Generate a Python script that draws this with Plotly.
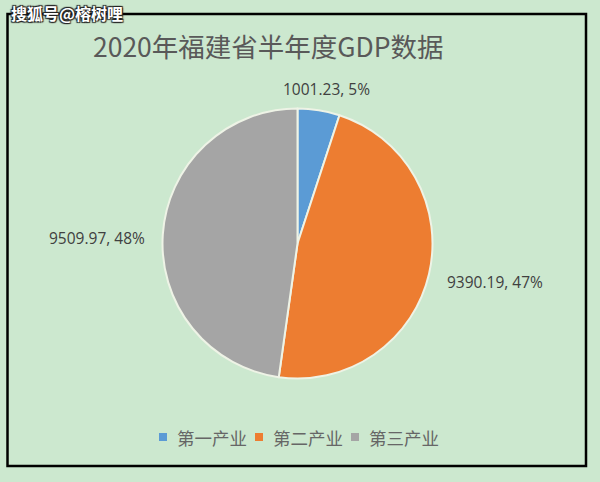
import math
import plotly.graph_objects as go

categories = ["第一产业", "第二产业", "第三产业"]
values = [1001.23, 9390.19, 9509.97]
colors = ["#5b9bd5", "#ed7d31", "#a5a5a5"]
title_text = "2020年福建省半年度GDP数据"
watermark = "搜狐号@榕树哩"

W, H = 600, 482
BG = "#cce8cf"
cx, cy, r = 297.5, 243.5, 135.0  # pie centre / radius in pixels

fig = go.Figure()
fig.add_trace(go.Pie(
    labels=categories, values=values, sort=False, direction="clockwise", rotation=0,
    marker=dict(colors=colors, line=dict(color="#eef3e6", width=2)),
    textinfo="none", hoverinfo="label+value+percent", showlegend=False,
    domain=dict(x=[(cx - r) / W, (cx + r) / W], y=[(H - cy - r) / H, (H - cy + r) / H]),
))

# data labels, placed from each slice's mid angle
total = sum(values)
start = 0.0
annotations = []
shapes = []
for v in values:
    frac = v / total
    mid = (start + frac / 2) * 2 * math.pi
    start += frac
    lr = r * 1.12
    s = math.sin(mid)
    px = cx + lr * s
    py = cy - lr * math.cos(mid) + 5 * abs(s)
    xa = "center" if abs(s) < 0.35 else ("left" if s > 0 else "right")
    if xa == "center":
        px += 5
        py -= 6
    annotations.append(dict(
        x=px / W, y=1 - py / H, xref="paper", yref="paper", xanchor=xa, yanchor="middle",
        text=f"{v:.2f}, {round(frac * 100)}%", showarrow=False,
        font=dict(family="Open Sans, Noto Sans", size=15.5, color="#404040"),
    ))

# legend (drawn row: square key + category name)
leg_x0, leg_y, leg_pitch = 163.0, 437.0, 96.0
for i, (cat, col) in enumerate(zip(categories, colors)):
    kx = leg_x0 + i * leg_pitch
    shapes.append(dict(type="rect", xref="paper", yref="paper",
                       x0=(kx - 4) / W, x1=(kx + 4) / W, y0=1 - (leg_y + 4) / H, y1=1 - (leg_y - 4) / H,
                       line=dict(width=0), fillcolor=col))
    annotations.append(dict(
        x=(kx + 12) / W, y=1 - leg_y / H, xref="paper", yref="paper", xanchor="left", yanchor="middle",
        text=cat, showarrow=False,
        font=dict(family="Noto Sans CJK SC", size=17.5, color="#666666"),
    ))

annotations.append(dict(
    x=268 / W, y=1 - 45 / H, xref="paper", yref="paper", xanchor="center", yanchor="middle",
    text=title_text, showarrow=False,
    font=dict(family="Noto Sans CJK SC", size=26.5, color="#595959"),
))
annotations.append(dict(
    x=9 / W, y=1 - 13 / H, xref="paper", yref="paper", xanchor="left", yanchor="middle",
    text=f"<b>{watermark}</b>", showarrow=False,
    font=dict(family="Noto Sans CJK SC", size=16, color="white",
              shadow="1px 1px 1px #222, -1px -1px 1px #222, 1px -1px 1px #222, -1px 1px 1px #222"),
))

shapes.append(dict(type="rect", xref="paper", yref="paper",
                   x0=7.5 / W, x1=586 / W, y0=1 - 466 / H, y1=1 - 14 / H,
                   line=dict(color="black", width=2.5), fillcolor="rgba(0,0,0,0)", layer="above"))

fig.update_layout(
    width=W, height=H, margin=dict(l=0, r=0, t=0, b=0),
    paper_bgcolor=BG, plot_bgcolor=BG,
    showlegend=False,
    annotations=annotations,
    shapes=shapes,
)

fig.write_html("out.html")
